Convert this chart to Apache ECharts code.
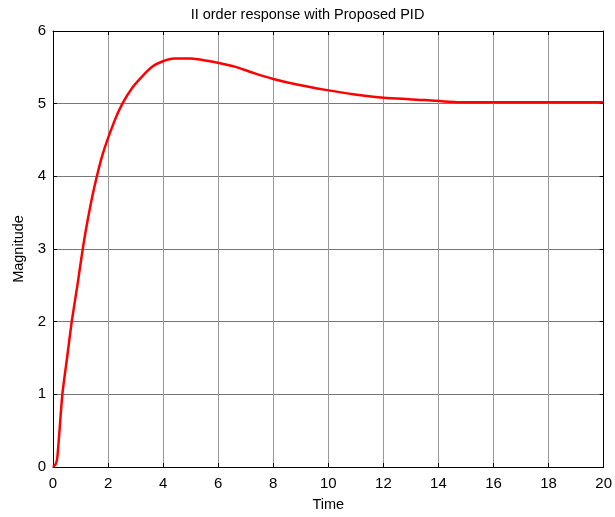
<!DOCTYPE html>
<html><head><meta charset="utf-8">
<script src="https://cdn.jsdelivr.net/npm/echarts@6/dist/echarts.min.js"></script>
<style>html,body{margin:0;padding:0;background:#fff}#c{width:615px;height:517px}</style>
</head><body><div id="c"></div>
<script>
const titleText = 'II order response with Proposed PID';
const xName = 'Time';
const yName = 'Magnitude';
const time = [0,0.1,0.16,0.34,0.51,0.68,0.89,1.08,1.26,1.5,1.8,2.22,2.52,2.88,3.25,3.61,3.97,4.4,5.0,5.6,6.03,6.6,7.3,8.0,8.9,9.9,10.9,12.0,13.5,14.8,16,18,20];
const magnitude = [0,0.04,0.14,1.0,1.5,2.0,2.51,3.0,3.4,3.85,4.3,4.75,5.0,5.22,5.38,5.51,5.58,5.62,5.62,5.59,5.56,5.51,5.42,5.34,5.26,5.19,5.13,5.08,5.05,5.02,5.02,5.02,5.02];

const font = 'Liberation Sans, Arial, sans-serif';
const chart = echarts.init(document.getElementById('c'));
const tickInside = {show:true, inside:true, length:4, lineStyle:{color:'#000'}};
chart.setOption({
  animation:false,
  title:{text:titleText, left:'center', top:2, textStyle:{fontFamily:font, fontSize:14.5, fontWeight:'normal', color:'#000'}},
  grid:{left:53, right:11, top:31, bottom:50},
  xAxis:[{
    type:'value', min:0, max:20, interval:2,
    name:xName, nameLocation:'middle', nameGap:30,
    nameTextStyle:{fontFamily:font, fontSize:14.5, color:'#000'},
    axisLine:{show:true, onZero:false, lineStyle:{color:'#000', width:1}},
    axisTick:tickInside,
    axisLabel:{fontFamily:font, fontSize:15, color:'#000', margin:9},
    splitLine:{show:true, lineStyle:{color:'#999', width:1}}
  },{
    type:'value', min:0, max:20, interval:2, position:'top',
    axisLine:{show:true, onZero:false, lineStyle:{color:'#000', width:1}},
    axisTick:tickInside, axisLabel:{show:false}, splitLine:{show:false}
  }],
  yAxis:[{
    type:'value', min:0, max:6, interval:1,
    name:yName, nameLocation:'middle', nameGap:26,
    nameTextStyle:{fontFamily:font, fontSize:14.5, color:'#000'},
    axisLine:{show:true, onZero:false, lineStyle:{color:'#000', width:1}},
    axisTick:tickInside,
    axisLabel:{fontFamily:font, fontSize:15, color:'#000', margin:7},
    splitLine:{show:true, lineStyle:{color:'#777', width:1}}
  },{
    type:'value', min:0, max:6, interval:1, position:'right',
    axisLine:{show:true, onZero:false, lineStyle:{color:'#000', width:1}},
    axisTick:tickInside, axisLabel:{show:false}, splitLine:{show:false}
  }],
  series:[{
    type:'line', xAxisIndex:0, yAxisIndex:0,
    data: time.map((t,i)=>[t, magnitude[i]]),
    showSymbol:false, smooth:0.2,
    lineStyle:{color:'#ff0000', width:2.5}
  }]
});
</script></body></html>
